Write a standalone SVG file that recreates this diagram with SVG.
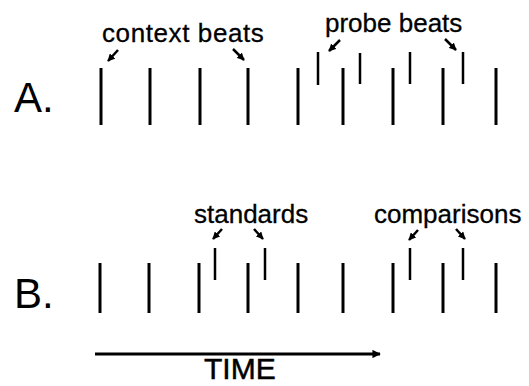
<svg xmlns="http://www.w3.org/2000/svg" width="529" height="386" viewBox="0 0 529 386">
<style>
text{font-family:"Liberation Sans",Arial,sans-serif;fill:#000}
.lbl{font-size:26px;stroke:#000;stroke-width:0.3}
.big{font-size:42px}
.time{font-size:30px;stroke:#000;stroke-width:0.5}
.tall{stroke:#000;stroke-width:3}
.short{stroke:#000;stroke-width:2.5}
.ptr{stroke:#000;stroke-width:2.5;fill:none;marker-end:url(#ah)}
.axis{stroke:#000;stroke-width:3;fill:none;marker-end:url(#big)}
</style>
<defs>
<marker id="ah" viewBox="0 0 10 10" refX="9" refY="5" markerWidth="3" markerHeight="3" orient="auto" markerUnits="strokeWidth">
<path d="M0,0 L10,5 L0,10 z" fill="#000"/>
</marker>
<marker id="big" viewBox="0 0 10 10" refX="9" refY="5" markerWidth="3.4" markerHeight="2.8" orient="auto" markerUnits="strokeWidth">
<path d="M0,0 L10,5 L0,10 z" fill="#000"/>
</marker>
</defs>
<g id="rowA">
<text class="big" x="14" y="112">A.</text>
<g id="rowA-beats">
<line class="tall" x1="101" y1="68" x2="101" y2="125"/>
<line class="tall" x1="150" y1="68" x2="150" y2="125"/>
<line class="tall" x1="200" y1="68" x2="200" y2="125"/>
<line class="tall" x1="248" y1="68" x2="248" y2="125"/>
<line class="tall" x1="298" y1="68" x2="298" y2="125"/>
<line class="tall" x1="343" y1="68" x2="343" y2="125"/>
<line class="tall" x1="393" y1="68" x2="393" y2="125"/>
<line class="tall" x1="443" y1="68" x2="443" y2="125"/>
<line class="tall" x1="496" y1="68" x2="496" y2="125"/>
<line class="short" x1="318" y1="52" x2="318" y2="85"/>
<line class="short" x1="360" y1="53" x2="360" y2="84"/>
<line class="short" x1="410" y1="52" x2="410" y2="84"/>
<line class="short" x1="463" y1="52" x2="463" y2="84"/>
</g>
<g id="context-beats"><text class="lbl" x="102" y="42" letter-spacing="0.6">context beats</text></g>
<g id="probe-beats"><text class="lbl" x="325" y="32">probe beats</text></g>
</g>
<g id="rowB">
<text class="big" x="14" y="308">B.</text>
<g id="rowB-beats">
<line class="tall" x1="100" y1="263" x2="100" y2="313"/>
<line class="tall" x1="149" y1="263" x2="149" y2="313"/>
<line class="tall" x1="199" y1="263" x2="199" y2="313"/>
<line class="tall" x1="248" y1="263" x2="248" y2="313"/>
<line class="tall" x1="298" y1="263" x2="298" y2="313"/>
<line class="tall" x1="343" y1="263" x2="343" y2="313"/>
<line class="tall" x1="393" y1="263" x2="393" y2="313"/>
<line class="tall" x1="443" y1="263" x2="443" y2="313"/>
<line class="tall" x1="496" y1="263" x2="496" y2="313"/>
<line class="short" x1="215" y1="248" x2="215" y2="280"/>
<line class="short" x1="265" y1="248" x2="265" y2="280"/>
<line class="short" x1="410" y1="248" x2="410" y2="280"/>
<line class="short" x1="463" y1="248" x2="463" y2="280"/>
</g>
<g id="standards"><text class="lbl" x="194" y="223">standards</text></g>
<g id="comparisons"><text class="lbl" x="374" y="223">comparisons</text></g>
</g>
<g id="time"><text class="time" x="204" y="379">TIME</text></g>
<g id="connectors">
<line class="ptr" x1="118" y1="50" x2="108" y2="61"/>
<line class="ptr" x1="233" y1="49" x2="244" y2="60"/>
<line class="ptr" x1="340" y1="40" x2="329" y2="51"/>
<line class="ptr" x1="445" y1="39" x2="456" y2="50"/>
<line class="ptr" x1="222" y1="229" x2="213" y2="239"/>
<line class="ptr" x1="254" y1="229" x2="263" y2="239"/>
<line class="ptr" x1="418" y1="230" x2="409" y2="240"/>
<line class="ptr" x1="456" y1="229" x2="465" y2="239"/>
<line class="axis" x1="95" y1="354" x2="380" y2="354"/>
</g>
</svg>
